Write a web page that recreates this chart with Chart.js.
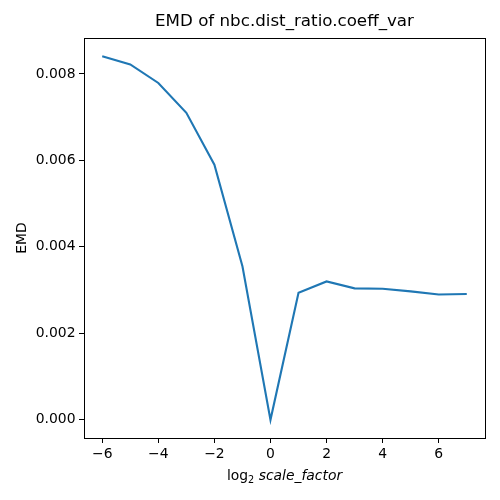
<!DOCTYPE html>
<html>
<head>
<meta charset="utf-8">
<script src="https://cdn.jsdelivr.net/npm/chart.js@4"></script>
<style>
html,body{margin:0;padding:0;background:#fff;}
#wrap{width:500px;height:500px;}
</style>
</head>
<body>
<div id="wrap"><canvas id="c" width="500" height="500"></canvas></div>
<script>
const xValues = [-6, -5, -4, -3, -2, -1, 0, 1, 2, 3, 4, 5, 6, 7];
const emdValues = [0.00841, 0.00822, 0.00779, 0.00710, 0.00590, 0.00355, 0.0, 0.00294, 0.00320, 0.00304, 0.00303, 0.00297, 0.00290, 0.00291];
const xTicks = [-6, -4, -2, 0, 2, 4, 6];
const yTicks = [0.000, 0.002, 0.004, 0.006, 0.008];
const titleText = 'EMD of nbc.dist_ratio.coeff_var';
const yLabel = 'EMD';

const FONT = "'DejaVu Sans', sans-serif";

const decor = {
  id: 'decor',
  afterDraw(chart) {
    const ctx = chart.ctx;
    const a = chart.chartArea;
    ctx.save();
    ctx.strokeStyle = '#000';
    ctx.lineWidth = 1;
    ctx.strokeRect(Math.round(a.left) + 0.5, Math.round(a.top) + 0.5, Math.round(a.right - a.left), Math.round(a.bottom - a.top));
    ctx.fillStyle = '#000';
    const cx = (a.left + a.right) / 2;
    // title
    ctx.font = '16.7px ' + FONT;
    ctx.textAlign = 'center';
    ctx.textBaseline = 'middle';
    ctx.fillText(titleText, cx, 22);
    // y label
    ctx.save();
    ctx.translate(22, (a.top + a.bottom) / 2);
    ctx.rotate(-Math.PI / 2);
    ctx.font = '13.9px ' + FONT;
    ctx.fillText(yLabel, 0, 0);
    ctx.restore();
    // x label: log_2 scale_factor
    const f1 = '13.9px ' + FONT;
    const f2 = '9.7px ' + FONT;
    const f3 = 'italic 13.9px ' + FONT;
    ctx.textAlign = 'left';
    ctx.textBaseline = 'alphabetic';
    ctx.font = f1; const w1 = ctx.measureText('log').width;
    ctx.font = f2; const w2 = ctx.measureText('2').width;
    ctx.font = f3; const wsp = ctx.measureText(' ').width; const w3 = ctx.measureText('scale_factor').width;
    const total = w1 + w2 + wsp + w3;
    let x = cx - total / 2;
    const base = 480;
    ctx.font = f1; ctx.fillText('log', x, base); x += w1;
    ctx.font = f2; ctx.fillText('2', x, base + 3); x += w2 + wsp;
    ctx.font = f3; ctx.fillText('scale_factor', x, base);
    ctx.restore();
  }
};

new Chart(document.getElementById('c'), {
  type: 'line',
  data: {
    datasets: [{
      data: xValues.map((x, i) => ({x: x, y: emdValues[i]})),
      borderColor: '#1f77b4',
      borderWidth: 2.1,
      pointRadius: 0,
      tension: 0,
      fill: false
    }]
  },
  options: {
    responsive: false,
    animation: false,
    devicePixelRatio: 1,
    layout: {padding: {left: 0, top: 38, right: 15, bottom: 0}},
    plugins: {legend: {display: false}, title: {display: false}, tooltip: {enabled: false}},
    scales: {
      x: {
        type: 'linear',
        min: -6.65,
        max: 7.65,
        afterBuildTicks: s => { s.ticks = xTicks.map(v => ({value: v})); },
        afterFit: s => { s.height = 62; },
        grid: {display: true, drawOnChartArea: false, drawTicks: true, tickLength: 5, color: '#000', tickColor: '#000'},
        border: {display: true, color: '#000'},
        ticks: {color: '#000', font: {family: FONT, size: 13.9}, padding: 3, maxRotation: 0, autoSkip: false,
          callback: v => (v < 0 ? '\u2212' + Math.abs(v) : String(v))}
      },
      y: {
        type: 'linear',
        min: -0.00042,
        max: 0.00883,
        afterBuildTicks: s => { s.ticks = yTicks.map(v => ({value: v})); },
        afterFit: s => { s.width = 84; },
        grid: {display: true, drawOnChartArea: false, drawTicks: true, tickLength: 5, color: '#000', tickColor: '#000'},
        border: {display: true, color: '#000'},
        ticks: {color: '#000', font: {family: FONT, size: 13.9}, padding: 3.5, autoSkip: false,
          callback: v => v.toFixed(3)}
      }
    }
  },
  plugins: [decor]
});
</script>
</body>
</html>
